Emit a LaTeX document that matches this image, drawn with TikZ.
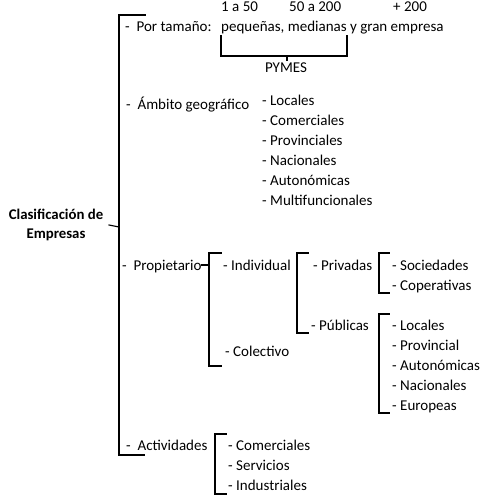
\documentclass[tikz,border=0pt]{standalone}
\usepackage{fontspec}
\setmainfont{Carlito}
\usetikzlibrary{positioning,calc}
\tikzset{
    item/.style={anchor=base west, inner sep=0pt, font=\fontsize{15}{17}\selectfont},
    titlebox/.style={align=center, inner sep=0pt, font=\fontsize{14.8}{19.5}\selectfont\bfseries},
    bracket/.style={line width=1.1pt, line cap=rect}
}

\begin{document}
\begin{tikzpicture}[x=1pt, y=-1pt]
    \useasboundingbox (0,0) rectangle (497,502);

    % root
    \node[titlebox] (root) at (56,225) {Clasificación de\\Empresas};

    % first level
    \node[item] (tam) at (125,32) {-\ \ Por tamaño:};
    \node[item] (amb) at (126,110) {-\ \ Ámbito geográfico};
    \node[item] (prop) at (122,270) {-\ \ Propietario};
    \node[item] (act) at (126,450) {-\ \ Actividades};

    % por tamano
    \node[item] (sizes) at (221,32) {pequeñas, medianas y gran empresa};
    \node[item] (n1) at (221,12) {1 a 50};
    \node[item] (n2) at (289,12) {50 a 200};
    \node[item] (n3) at (393,12) {+ 200};
    \node[item, anchor=base] (pymes) at (286,73) {PYMES};

    % ambito geografico
    \foreach \name [count=\i from 0] in {Locales, Comerciales, Provinciales, Nacionales, Autonómicas, Multifuncionales}
        \node[item] (geo\i) at (262,106+20*\i) {- \name};

    % propietario
    \node[item] (indiv) at (223,270) {- Individual};
    \node[item] (colec) at (225,356) {- Colectivo};
    \node[item] (priv) at (313,270) {- Privadas};
    \node[item] (pub) at (311,330) {- Públicas};
    \node[item] (soc) at (392,270) {- Sociedades};
    \node[item] (coop) at (392,290) {- Coperativas};
    \foreach \name [count=\i from 0] in {Locales, Provincial, Autonómicas, Nacionales, Europeas}
        \node[item] (pub\i) at (392,330+20*\i) {- \name};

    % actividades
    \foreach \name [count=\i from 0] in {Comerciales, Servicios, Industriales}
        \node[item] (acti\i) at (228,450+20*\i) {- \name};

    % brackets
    \coordinate (main) at (119,227);
    \draw[bracket] (root.east -| 109,0) -- (main);
    \draw[bracket] (145,15) -- (119,15) -- (119,455) -- (144,455);

    \draw[bracket] (221,36) -- (221,56) -- (347,56) -- (347,36);
    \draw[bracket] (287,56) -- (287,60);

    \coordinate (propB) at (209,265);
    \draw[bracket] (prop.east |- propB) -- (propB);
    \draw[bracket] (221,253) -- (209,253) -- (209,366) -- (221,366);

    \draw[bracket] (308,253) -- (297,253) -- (297,333) -- (308,333);
    \draw[bracket] (389,253) -- (379,253) -- (379,293) -- (389,293);
    \draw[bracket] (389,314) -- (379,314) -- (379,413) -- (389,413);

    \draw[bracket] (226,434) -- (215,434) -- (215,494) -- (226,494);
\end{tikzpicture}
\end{document}
